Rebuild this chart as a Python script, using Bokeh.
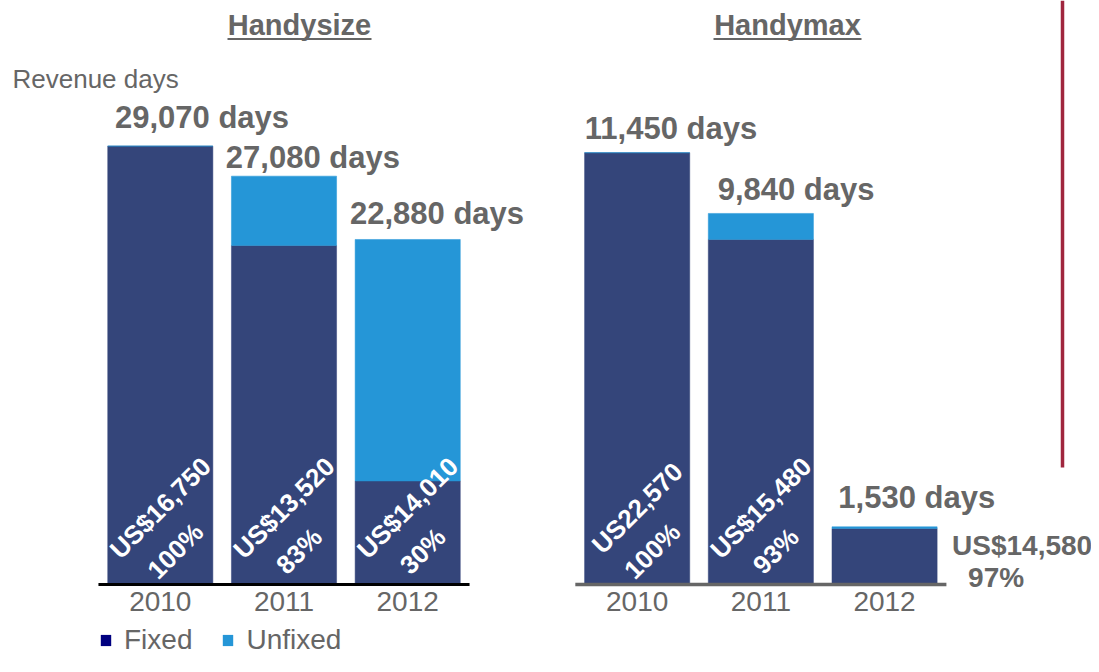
import math
from bokeh.plotting import figure
from bokeh.layouts import column
from bokeh.models import ColumnDataSource, Range1d, FixedTicker, Legend, LegendItem
from bokeh.core.properties import value
from bokeh.embed import file_html
from bokeh.resources import INLINE

# ---------------- data ----------------
years = ["2010", "2011", "2012"]
panel_titles = ["Handysize", "Handymax"]
series_names = ["Fixed", "Unfixed"]
y_label = "Revenue days"

hs_days = [29070, 27080, 22880]
hs_fixed_pct = [100, 83, 30]
hs_rate = ["US$16,750", "US$13,520", "US$14,010"]

hm_days = [11450, 9840, 1530]
hm_fixed_pct = [100, 93, 97]
hm_rate = ["US22,570", "US$15,480", "US$14,580"]

# ---------------- styles / layout ----------------
FIXED = "#34457A"
UNFIXED = "#2596D7"
LEG_FIXED = "#000080"
GRAY = "#666666"
RED = "#A0263E"
FONT = "Liberation Sans"

W = 1091
H_MAIN = 624
H_LEG = 32
U = 123.7          # px per category slot
X0 = 97.95         # canvas x of slot 0
BASE = 584.0       # canvas y of zero
SL = 0.01508       # px per day, Handysize
SR = 0.03771       # px per day, Handymax
FR_BOT = 590.0     # canvas y of frame bottom
HM_OFFSET = 3.855  # slot offset of the second panel
BAR_W = 0.85


def X(px):
    return (px - X0) / U


def Y(py, s):
    return (BASE - py) / s


p = figure(width=W, height=H_MAIN, output_backend="svg", toolbar_location=None,
           title=None, y_axis_location=None,
           x_range=Range1d(X(0), X(W)),
           y_range=Range1d(Y(FR_BOT, SL), Y(0, SL)),
           min_border_left=0, min_border_right=0, min_border_top=0,
           min_border_bottom=int(H_MAIN - FR_BOT),
           outline_line_color=None, background_fill_color="white",
           border_fill_color="white")
p.extra_y_ranges = {"hm": Range1d(Y(FR_BOT, SR), Y(0, SR))}
p.grid.visible = False

panels = [
    dict(days=hs_days, pct=hs_fixed_pct, rate=hs_rate, off=0.0, s=SL,
         yr="default", lbl_dx=[41.7, 28.9, 29.3], lbl_gap=[28.8, 18.5, 25.8],
         title_x=299, ul=(227, 371)),
    dict(days=hm_days, pct=hm_fixed_pct, rate=hm_rate, off=HM_OFFSET, s=SR,
         yr="hm", lbl_dx=[33.8, 35.2, 32.2], lbl_gap=[24, 23.7, 29.8],
         title_x=787, ul=(713, 861)),
]

ticks = []
overrides = {}

for k, pn in enumerate(panels):
    s = pn["s"]
    xs = [round(pn["off"] + i + 0.5, 4) for i in range(len(years))]
    fixed = [d * q / 100.0 for d, q in zip(pn["days"], pn["pct"])]
    for xv, yv in zip(xs, years):
        ticks.append(xv)
        overrides[xv] = yv
    src = ColumnDataSource(dict(
        x=xs, total=pn["days"], fixed=fixed,
        lx=[xv + dx / U for xv, dx in zip(xs, pn["lbl_dx"])],
        ly=[d + g / s for d, g in zip(pn["days"], pn["lbl_gap"])],
        lbl=[f"{d:,} days" for d in pn["days"]],
    ))
    kw = {} if pn["yr"] == "default" else {"y_range_name": pn["yr"]}
    p.vbar(x="x", width=BAR_W, bottom=0, top="fixed", source=src,
           fill_color=FIXED, line_color=FIXED, line_width=0.5, **kw)
    p.vbar(x="x", width=BAR_W, bottom="fixed", top="total", source=src,
           fill_color=UNFIXED, line_color=UNFIXED, line_width=0.5, **kw)
    p.text(x="lx", y="ly", text="lbl", source=src, text_align="center",
           text_baseline="middle", text_font=value(FONT),
           text_font_style="bold", text_font_size="31px", text_color=GRAY, **kw)

    # rate / fixed-share labels
    inside = [i for i, d in enumerate(pn["days"]) if d * s > 150]
    outside = [i for i, d in enumerate(pn["days"]) if d * s <= 150]
    if inside:
        isrc = ColumnDataSource(dict(
            x1=[xs[i] + 0 / U for i in inside], y1=[76.5 / s for i in inside],
            x2=[xs[i] + 15 / U for i in inside], y2=[33.5 / s for i in inside],
            rate=[pn["rate"][i] for i in inside],
            pct=[f"{pn['pct'][i]}%" for i in inside],
        ))
        for xc, yc, tc in (("x1", "y1", "rate"), ("x2", "y2", "pct")):
            p.text(x=xc, y=yc, text=tc, source=isrc, angle=math.pi / 4,
                   text_align="center", text_baseline="middle",
                   text_font=value(FONT), text_font_style="bold",
                   text_font_size="26px", text_color="white", **kw)
    if outside:
        osrc = ColumnDataSource(dict(
            x1=[xs[i] + 67.5 / U for i in outside], y1=[39.5 / s for i in outside],
            x2=[xs[i] + 83.5 / U for i in outside], y2=[7.3 / s for i in outside],
            rate=[pn["rate"][i] for i in outside],
            pct=[f"{pn['pct'][i]}%" for i in outside],
        ))
        for xc, yc, tc in (("x1", "y1", "rate"), ("x2", "y2", "pct")):
            p.text(x=xc, y=yc, text=tc, source=osrc, text_align="left",
                   text_baseline="middle", text_font=value(FONT),
                   text_font_style="bold", text_font_size="28px",
                   text_color=GRAY, **kw)

    # panel title with underline
    p.text(x=[X(pn["title_x"])], y=[Y(24.2, SL)], text=[panel_titles[k]],
           text_align="center", text_baseline="middle",
           text_font=value(FONT), text_font_style="bold",
           text_font_size="29px", text_color=GRAY)
    p.segment(x0=[X(pn["ul"][0])], y0=[Y(38.6, SL)], x1=[X(pn["ul"][1])],
              y1=[Y(38.6, SL)], line_color=GRAY, line_width=2)

    # baseline
    p.segment(x0=[pn["off"]], y0=[0], x1=[pn["off"] + len(years)], y1=[0],
              line_color="black" if k == 0 else GRAY,
              line_width=3 if k == 0 else 3.5, **kw)

# y label
p.text(x=[X(12)], y=[Y(78.7, SL)], text=[y_label], text_align="left",
       text_baseline="middle", text_font=value(FONT),
       text_font_size="26px", text_color=GRAY)

# red divider line
p.segment(x0=[X(1062)], y0=[Y(467, SL)], x1=[X(1062)], y1=[Y(0, SL)],
          line_color=RED, line_width=3.5)

# axis
ax = p.xaxis[0]
ax.ticker = FixedTicker(ticks=ticks)
ax.major_label_overrides = overrides
ax.axis_line_color = None
ax.major_tick_line_color = None
ax.minor_tick_line_color = None
ax.major_tick_out = 0
ax.major_tick_in = 0
ax.major_label_standoff = 1
ax.major_label_text_font = FONT
ax.major_label_text_font_size = "28px"
ax.major_label_text_color = GRAY

# ---------------- legend strip ----------------
lg = figure(width=W, height=H_LEG, output_backend="svg", toolbar_location=None,
            title=None, x_axis_location=None, y_axis_location=None,
            x_range=Range1d(0, 1), y_range=Range1d(0, 1),
            min_border_left=0, min_border_right=0, min_border_top=0,
            min_border_bottom=0, outline_line_color=None,
            background_fill_color="white", border_fill_color="white")
lg.grid.visible = False
# off-range proxy renderers that only provide the legend swatches
d1 = lg.vbar(x=[10], top=[1], width=0.5, fill_color=LEG_FIXED, line_color=None)
d2 = lg.vbar(x=[10], top=[1], width=0.5, fill_color=UNFIXED, line_color=None)
legend = Legend(items=[LegendItem(label=series_names[0], renderers=[d1]),
                       LegendItem(label=series_names[1], renderers=[d2])],
                location=(99, 0), orientation="horizontal",
                glyph_width=13, glyph_height=14, label_standoff=12,
                spacing=29, padding=0, margin=0, border_line_color=None,
                background_fill_alpha=0, label_text_font=FONT,
                label_text_font_size="28px", label_text_color=GRAY)
lg.add_layout(legend)

layout = column(p, lg, spacing=0)
open("out.html", "w").write(file_html(layout, INLINE))
